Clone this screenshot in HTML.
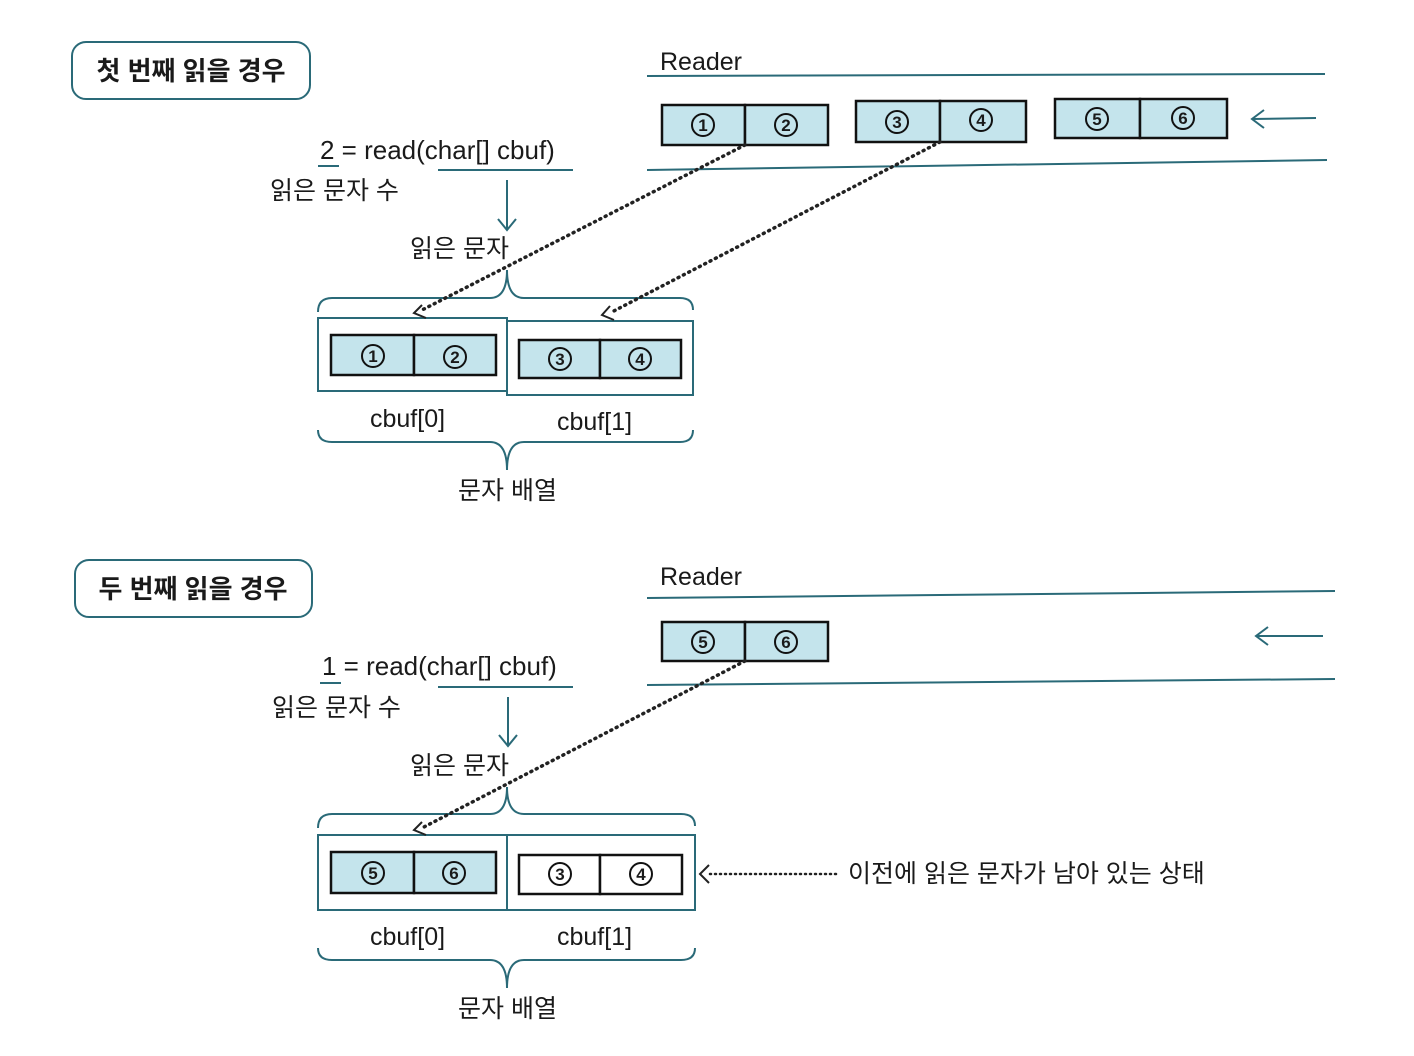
<!DOCTYPE html>
<html><head><meta charset="utf-8"><style>
html,body{margin:0;padding:0;background:#fff;}
svg{display:block;}
text{font-family:"Liberation Sans","Noto Sans CJK KR",sans-serif;fill:#1a1a1a;}
.t{stroke:#2a6a78;stroke-width:2;fill:none;}
.c{fill:#c4e4ec;stroke:#111;stroke-width:2.5;}
.w{fill:#fff;stroke:#111;stroke-width:2.5;}
.d{stroke:#222;stroke-width:3.5;stroke-dasharray:1 5;stroke-linecap:round;fill:none;}
.n{font-size:17px;font-weight:bold;text-anchor:middle;}
</style></head><body>
<svg width="1414" height="1056" viewBox="0 0 1414 1056">
<defs>
<g id="circ"><circle r="11" fill="none" stroke="#111" stroke-width="2"/></g>
</defs>

<!-- ===== TOP ===== -->
<rect x="72" y="42" width="238" height="57" rx="14" class="t"/>
<text x="191" y="80" font-size="26" font-weight="bold" text-anchor="middle">첫 번째 읽을 경우</text>

<text x="660" y="70" font-size="25">Reader</text>
<line x1="647" y1="76" x2="1325" y2="74" class="t"/>
<line x1="647" y1="170" x2="1327" y2="160" class="t"/>

<!-- reader cells -->
<rect x="662" y="105" width="83" height="40" class="c"/><rect x="745" y="105" width="83" height="40" class="c"/>
<rect x="856" y="101" width="84" height="41" class="c"/><rect x="940" y="101" width="86" height="41" class="c"/>
<rect x="1055" y="99" width="85" height="39" class="c"/><rect x="1140" y="99" width="87" height="39" class="c"/>
<use href="#circ" x="703" y="125"/><text x="703" y="131" class="n">1</text>
<use href="#circ" x="786" y="125"/><text x="786" y="131" class="n">2</text>
<use href="#circ" x="897" y="122"/><text x="897" y="128" class="n">3</text>
<use href="#circ" x="981" y="120"/><text x="981" y="126" class="n">4</text>
<use href="#circ" x="1097" y="119"/><text x="1097" y="125" class="n">5</text>
<use href="#circ" x="1183" y="118"/><text x="1183" y="124" class="n">6</text>
<line x1="1252" y1="119" x2="1316" y2="118" class="t"/>
<polyline points="1264,110 1252,119 1264,128" class="t"/>

<text x="320" y="159" font-size="26">2 = read(char[] cbuf)</text>
<line x1="318" y1="166" x2="339" y2="166" class="t"/>
<line x1="438" y1="170" x2="573" y2="170" class="t"/>
<text x="270" y="199" font-size="25">읽은 문자 수</text>
<line x1="507" y1="180" x2="507" y2="230" class="t"/>
<polyline points="498,219 507,230 516,219" class="t"/>
<text x="410" y="257" font-size="25">읽은 문자</text>

<path d="M318,312 Q318,298 332,298 L490,298 Q507,298 507,270 Q507,298 524,298 L680,298 Q693,298 693,310" class="t"/>
<rect x="318" y="318" width="189" height="73" class="t"/>
<rect x="507" y="321" width="186" height="74" class="t"/>
<rect x="331" y="335" width="83" height="40" class="c"/><rect x="414" y="335" width="82" height="40" class="c"/>
<rect x="519" y="340" width="81" height="38" class="c"/><rect x="600" y="340" width="81" height="38" class="c"/>
<use href="#circ" x="373" y="356"/><text x="373" y="362" class="n">1</text>
<use href="#circ" x="455" y="357"/><text x="455" y="363" class="n">2</text>
<use href="#circ" x="560" y="359"/><text x="560" y="365" class="n">3</text>
<use href="#circ" x="640" y="359"/><text x="640" y="365" class="n">4</text>
<text x="370" y="427" font-size="25">cbuf[0]</text>
<text x="557" y="430" font-size="25">cbuf[1]</text>
<path d="M318,430 Q318,442 332,442 L490,442 Q507,442 507,470 Q507,442 524,442 L680,442 Q693,442 693,430" class="t"/>
<text x="458" y="499" font-size="25">문자 배열</text>

<line x1="745" y1="145" x2="422" y2="310" class="d"/>
<line x1="940" y1="142" x2="610" y2="313" class="d"/>
<polyline points="422,305 414,313 426,318" fill="none" stroke="#222" stroke-width="2"/>
<polyline points="610,306 602,315 614,320" fill="none" stroke="#222" stroke-width="2"/>

<!-- ===== BOTTOM ===== -->
<rect x="75" y="560" width="237" height="57" rx="14" class="t"/>
<text x="193" y="598" font-size="26" font-weight="bold" text-anchor="middle">두 번째 읽을 경우</text>

<text x="660" y="585" font-size="25">Reader</text>
<line x1="647" y1="598" x2="1335" y2="591" class="t"/>
<line x1="647" y1="685" x2="1335" y2="679" class="t"/>
<rect x="662" y="622" width="83" height="39" class="c"/><rect x="745" y="622" width="83" height="39" class="c"/>
<use href="#circ" x="703" y="642"/><text x="703" y="648" class="n">5</text>
<use href="#circ" x="786" y="642"/><text x="786" y="648" class="n">6</text>
<line x1="1256" y1="636" x2="1323" y2="636" class="t"/>
<polyline points="1268,627 1256,636 1268,645" class="t"/>

<text x="322" y="675" font-size="26">1 = read(char[] cbuf)</text>
<line x1="320" y1="683" x2="341" y2="683" class="t"/>
<line x1="438" y1="687" x2="573" y2="687" class="t"/>
<text x="272" y="716" font-size="25">읽은 문자 수</text>
<line x1="508" y1="697" x2="508" y2="746" class="t"/>
<polyline points="499,735 508,746 517,735" class="t"/>
<text x="410" y="774" font-size="25">읽은 문자</text>

<path d="M318,828 Q318,814 332,814 L490,814 Q507,814 507,787 Q507,814 524,814 L681,814 Q695,814 695,826" class="t"/>
<rect x="318" y="835" width="189" height="75" class="t"/>
<rect x="507" y="835" width="188" height="75" class="t"/>
<rect x="331" y="852" width="83" height="41" class="c"/><rect x="414" y="852" width="82" height="41" class="c"/>
<rect x="519" y="855" width="81" height="39" class="w"/><rect x="600" y="855" width="82" height="39" class="w"/>
<use href="#circ" x="373" y="873"/><text x="373" y="879" class="n">5</text>
<use href="#circ" x="454" y="873"/><text x="454" y="879" class="n">6</text>
<use href="#circ" x="560" y="874"/><text x="560" y="880" class="n">3</text>
<use href="#circ" x="641" y="874"/><text x="641" y="880" class="n">4</text>
<text x="370" y="945" font-size="25">cbuf[0]</text>
<text x="557" y="945" font-size="25">cbuf[1]</text>
<path d="M318,948 Q318,960 332,960 L490,960 Q507,960 507,988 Q507,960 524,960 L681,960 Q695,960 695,948" class="t"/>
<text x="458" y="1017" font-size="25">문자 배열</text>

<line x1="745" y1="661" x2="422" y2="828" class="d"/>
<polyline points="422,822 414,830 426,835" fill="none" stroke="#222" stroke-width="2"/>

<line x1="710" y1="874" x2="836" y2="874" stroke="#222" stroke-width="2.5" stroke-dasharray="1 4" stroke-linecap="round"/>
<polyline points="709,865 700,874 709,883" fill="none" stroke="#222" stroke-width="2"/>
<text x="848" y="882" font-size="25">이전에 읽은 문자가 남아 있는 상태</text>
</svg>
</body></html>
